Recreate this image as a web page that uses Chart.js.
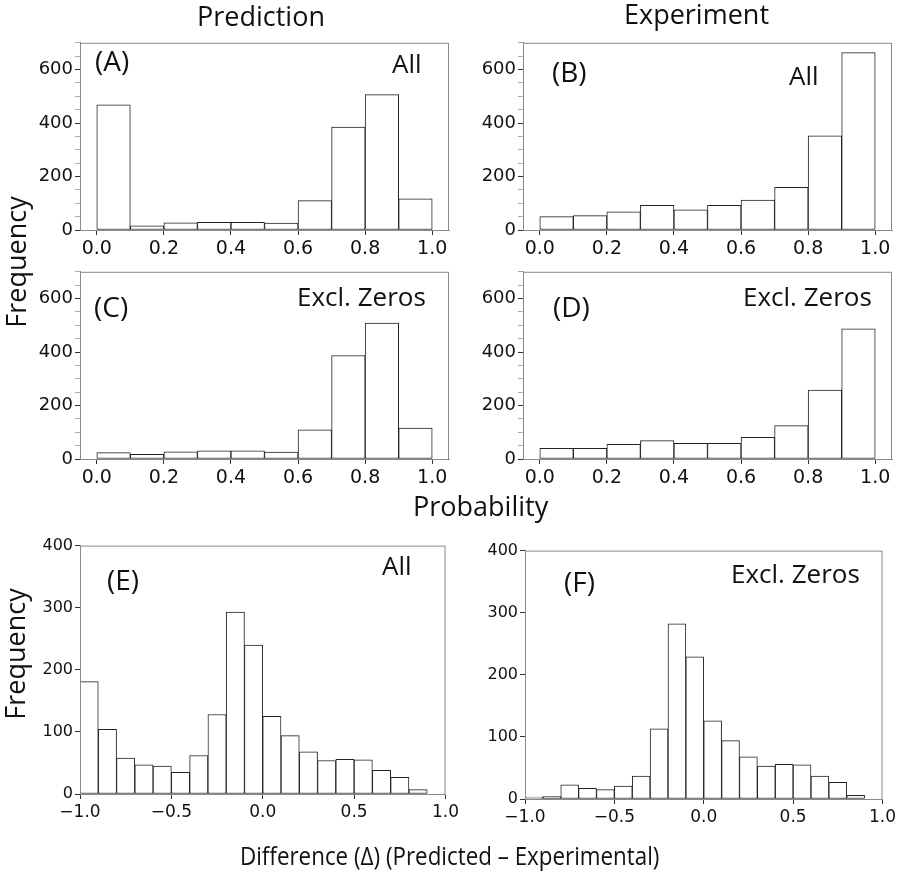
<!DOCTYPE html>
<html>
<head>
<meta charset="utf-8">
<script src="https://cdn.jsdelivr.net/npm/chart.js@4"></script>
<style>
  body { margin: 0; background: #fff; }
  #wrap { position: relative; width: 900px; height: 874px; overflow: hidden; font-family: 'Open Sans', sans-serif; color: #111; }
  canvas { position: absolute; }
  .lbl { position: absolute; font-size: 26px; line-height: 1; white-space: nowrap; }
  .rot { position: absolute; font-size: 27px; line-height: 1; white-space: nowrap; transform: translate(-50%, -50%) rotate(-90deg); }
</style>
</head>
<body>
<div id="wrap">
  <canvas id="chartA"></canvas>
  <canvas id="chartB"></canvas>
  <canvas id="chartC"></canvas>
  <canvas id="chartD"></canvas>
  <canvas id="chartE"></canvas>
  <canvas id="chartF"></canvas>

  <div class="lbl" style="left:197px; top:2px; font-size:27px;">Prediction</div>
  <div class="lbl" style="left:624px; top:0px; font-size:27px;">Experiment</div>
  <div class="lbl" style="left:413px; top:492px; font-size:27px;">Probability</div>
  <div class="lbl" style="left:240px; top:842px; font-size:26px; transform: scaleX(0.86); transform-origin: left center;">Difference (Δ) (Predicted – Experimental)</div>
  <div class="rot" style="left:15px; top:262px;">Frequency</div>
  <div class="rot" style="left:14px; top:654px;">Frequency</div>

  <div class="lbl" style="left:95px; top:46px; font-size:28px;">(A)</div>
  <div class="lbl" style="left:392px; top:50px;">All</div>
  <div class="lbl" style="left:552px; top:57px; font-size:28px;">(B)</div>
  <div class="lbl" style="left:789px; top:62px;">All</div>
  <div class="lbl" style="left:94px; top:292px; font-size:28px;">(C)</div>
  <div class="lbl" style="left:297px; top:283px;">Excl. Zeros</div>
  <div class="lbl" style="left:553px; top:292px; font-size:28px;">(D)</div>
  <div class="lbl" style="left:743px; top:283px;">Excl. Zeros</div>
  <div class="lbl" style="left:107px; top:565px; font-size:28px;">(E)</div>
  <div class="lbl" style="left:382px; top:552px;">All</div>
  <div class="lbl" style="left:564px; top:567px; font-size:28px;">(F)</div>
  <div class="lbl" style="left:731px; top:560px;">Excl. Zeros</div>
</div>
<script>
// bin centres (width 0.1)
const probBins = [0.05, 0.15, 0.25, 0.35, 0.45, 0.55, 0.65, 0.75, 0.85, 0.95];
const diffBins = [-0.95, -0.85, -0.75, -0.65, -0.55, -0.45, -0.35, -0.25, -0.15, -0.05,
                  0.05, 0.15, 0.25, 0.35, 0.45, 0.55, 0.65, 0.75, 0.85, 0.95];

// counts
const predAll    = [468, 16, 27, 29, 29, 26, 110, 385, 506, 117];
const expAll     = [50, 54, 68, 92, 75, 92, 112, 160, 352, 663];
const predNoZero = [24, 17, 27, 31, 31, 26, 109, 387, 508, 116];
const expNoZero  = [40, 40, 55, 69, 59, 59, 81, 125, 258, 487];
const diffAll    = [181, 104, 58, 47, 45, 35, 62, 128, 293, 240, 125, 94, 68, 54, 56, 55, 38, 27, 7, 0];
const diffNoZero = [3, 4, 23, 17, 15, 21, 37, 113, 282, 229, 126, 94, 68, 53, 56, 55, 37, 27, 6, 0];

// tick labels
const probTicks = [0.0, 0.2, 0.4, 0.6, 0.8, 1.0];
const probFreqTicks = [0, 200, 400, 600];
const diffTicks = [-1.0, -0.5, 0.0, 0.5, 1.0];
const diffFreqTicks = [0, 100, 200, 300, 400];

const PAD_L = 70, PAD_T = 10, PAD_R = 12, PAD_B = 40;

const framePlugin = {
    id: 'frame',
    afterDatasetsDraw(chart) {
        const a = chart.chartArea, ctx = chart.ctx;
        ctx.save();
        ctx.strokeStyle = '#8a8a8a';
        ctx.lineWidth = 1;
        ctx.strokeRect(a.left + 0.5, a.top + 0.5, a.right - a.left - 1, a.bottom - a.top);
        ctx.restore();
    }
};

function makePanel(id, area, bins, counts, cfg) {
    const canvas = document.getElementById(id);
    const w = area.right - area.left + PAD_L + PAD_R;
    const h = area.bottom - area.top + PAD_T + PAD_B;
    canvas.width = w;
    canvas.height = h;
    canvas.style.left = (area.left - PAD_L) + 'px';
    canvas.style.top = (area.top - PAD_T) + 'px';

    return new Chart(canvas, {
        type: 'bar',
        data: {
            datasets: [{
                data: bins.map((b, i) => ({ x: b, y: counts[i] })),
                backgroundColor: '#ffffff',
                borderColor: '#222222',
                borderWidth: 1,
                borderSkipped: false,
                barPercentage: 1,
                categoryPercentage: 1
            }]
        },
        options: {
            responsive: false,
            animation: false,
            events: [],
            layout: { padding: { top: PAD_T, right: PAD_R, left: 0, bottom: 0 } },
            plugins: { legend: { display: false }, tooltip: { enabled: false } },
            scales: {
                x: {
                    type: 'linear',
                    min: cfg.xMin,
                    max: cfg.xMax,
                    offset: false,
                    afterFit: s => { s.height = PAD_B; },
                    afterBuildTicks: s => { s.ticks = cfg.xTicks.map(v => ({ value: v })); },
                    grid: { display: true, drawOnChartArea: false, offset: false, tickLength: 5, tickColor: '#333' },
                    border: { color: '#8a8a8a' },
                    ticks: {
                        padding: 3,
                        maxRotation: 0,
                        autoSkip: false,
                        color: '#111',
                        font: { family: 'DejaVu Sans', size: cfg.xFont },
                        callback: v => (v < 0 ? '\u2212' : '') + Math.abs(v).toFixed(1)
                    }
                },
                y: {
                    min: 0,
                    max: cfg.yMax,
                    afterFit: s => { s.width = PAD_L; },
                    ticks: {
                        stepSize: cfg.yStep,
                        padding: 2,
                        autoSkip: false,
                        color: '#111',
                        font: { family: 'DejaVu Sans', size: cfg.yFont },
                        callback: v => cfg.yTicks.includes(v) ? String(v) : ''
                    },
                    grid: {
                        display: true,
                        drawOnChartArea: false,
                        tickLength: 5,
                        tickColor: c => cfg.yTicks.includes(c.tick.value) ? '#333' : (cfg.minor ? '#aaa' : 'rgba(0,0,0,0)')
                    },
                    border: { color: '#8a8a8a' }
                }
            }
        },
        plugins: [framePlugin]
    });
}

const probCfg = { xMin: -0.05, xMax: 1.05, xTicks: probTicks, yMax: 700, yStep: 50, yTicks: probFreqTicks, minor: true, xFont: 19, yFont: 18 };
const diffCfg = { xMin: -1, xMax: 1, xTicks: diffTicks, yMax: 400, yStep: 100, yTicks: diffFreqTicks, minor: false, xFont: 17, yFont: 16 };

makePanel('chartA', { left: 80, right: 449, top: 40, bottom: 230 }, probBins, predAll, probCfg);
makePanel('chartB', { left: 523, right: 892, top: 40, bottom: 230 }, probBins, expAll, probCfg);
makePanel('chartC', { left: 80, right: 449, top: 269, bottom: 459 }, probBins, predNoZero, probCfg);
makePanel('chartD', { left: 523, right: 892, top: 269, bottom: 459 }, probBins, expNoZero, probCfg);
makePanel('chartE', { left: 80, right: 450, top: 544, bottom: 794 }, diffBins, diffAll, diffCfg);
makePanel('chartF', { left: 525, right: 887, top: 549, bottom: 799 }, diffBins, diffNoZero, diffCfg);
</script>
</body>
</html>
